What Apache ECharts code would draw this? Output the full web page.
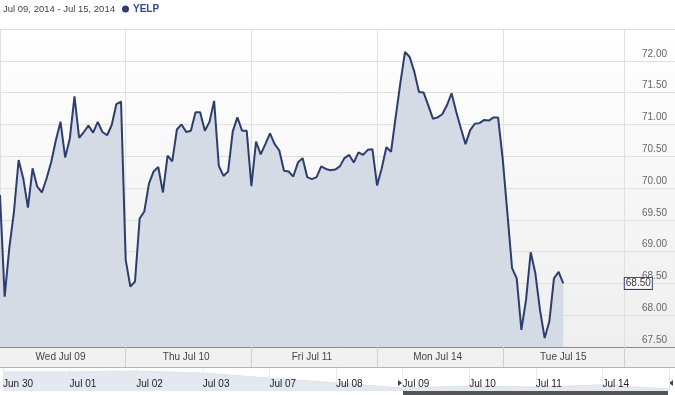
<!DOCTYPE html>
<html>
<head>
<meta charset="utf-8">
<script src="https://cdn.jsdelivr.net/npm/echarts@6/dist/echarts.min.js"></script>
<style>html,body{margin:0;padding:0;background:#fff}#c{width:675px;height:395px}</style>
</head>
<body>
<div id="c"></div>
<script>
// ---- data ----
const rangeTitle = 'Jul 09, 2014 - Jul 15, 2014';
const seriesName = 'YELP';
const dayLabels = ['Wed Jul 09', 'Thu Jul 10', 'Fri Jul 11', 'Mon Jul 14', 'Tue Jul 15'];
const jul09 = [69.89, 68.29, 69.06, 69.63, 70.44, 70.15, 69.69, 70.31, 70.02, 69.93, 70.15, 70.41, 70.75, 71.04, 70.48, 70.78, 71.44, 70.79, 70.88, 70.98, 70.87, 71.04, 70.88, 70.83, 70.99, 71.32, 71.36];
const jul10 = [68.87, 68.45, 68.53, 69.52, 69.63, 70.07, 70.26, 70.33, 69.93, 70.51, 70.42, 70.92, 71.00, 70.88, 70.90, 71.19, 71.19, 70.90, 71.04, 71.37, 70.35, 70.19, 70.26, 70.89, 71.11, 70.90, 70.90];
const jul11 = [70.03, 70.73, 70.53, 70.69, 70.86, 70.69, 70.59, 70.27, 70.26, 70.18, 70.40, 70.47, 70.17, 70.14, 70.17, 70.34, 70.30, 70.28, 70.29, 70.34, 70.47, 70.52, 70.40, 70.56, 70.52, 70.60, 70.61];
const jul14 = [70.04, 70.31, 70.64, 70.57, 71.12, 71.65, 72.14, 72.06, 71.83, 71.51, 71.50, 71.30, 71.09, 71.11, 71.16, 71.30, 71.49, 71.20, 70.94, 70.69, 70.91, 71.01, 71.02, 71.07, 71.06, 71.11, 71.11];
const jul15 = [70.45, 69.60, 68.74, 68.58, 67.77, 68.24, 68.99, 68.66, 68.08, 67.64, 67.90, 68.58, 68.68, 68.50];
const yTicks = [67.5, 68.0, 68.5, 69.0, 69.5, 70.0, 70.5, 71.0, 71.5, 72.0, 72.5];
const navDates = ['Jun 30', 'Jul 01', 'Jul 02', 'Jul 03', 'Jul 07', 'Jul 08', 'Jul 09', 'Jul 10', 'Jul 11', 'Jul 14', 'Jul 15'];
const navValues = [76.4, 76.4, 76.9, 75.8, 73.1, 70.4, 67.6, 68.7, 68.2, 69.3, 67.1];

// ---- build ----
const days = [jul09, jul10, jul11, jul14, jul15];
const perDay = 27;
const totalSlots = 146; // includes empty room for the right-hand axis area
const cats = [], vals = [];
days.forEach((d, di) => d.forEach((v, k) => { cats.push(dayLabels[di] + '|' + k); vals.push(v); }));
const nData = vals.length;
while (cats.length < totalSlots) { cats.push('pad' + cats.length); vals.push(null); }
const axisSlot = 134;
const lastVal = vals[nData - 1];
const isDayStart = i => (i % perDay === 0 && i < nData) || i === axisSlot;
const isDayMid = i => i % perDay === 13 && i < nData;

const FONT = '"Liberation Sans", Arial, sans-serif';
const FS = 10;
const LINE = '#2b3e6e';
const chart = echarts.init(document.getElementById('c'), null, {renderer: 'canvas'});
chart.setOption({
  animation: false,
  textStyle: {fontFamily: FONT},
  title: {text: rangeTitle, left: 3, top: 4, padding: 0,
    textStyle: {fontSize: 9.5, fontWeight: 'normal', color: '#444', fontFamily: FONT}},
  legend: {data: [{name: seriesName, icon: 'circle', itemStyle: {color: LINE}}], left: 122, top: 4, padding: 0,
    itemWidth: 7, itemHeight: 7, itemGap: 5,
    textStyle: {fontSize: FS, fontWeight: 'bold', color: '#2d4a8c', fontFamily: FONT, padding: [0, 0, 0, -1]}},
  graphic: [
    {type: 'rect', shape: {x: 0, y: 348, width: 675, height: 19}, style: {fill: '#f1f1f1'}, z: -10, silent: true},
    {type: 'line', shape: {x1: 0, y1: 367.5, x2: 675, y2: 367.5}, style: {stroke: '#b5b5b5', lineWidth: 1}, silent: true},
    {type: 'rect', shape: {x: 403, y: 390, width: 265, height: 5}, style: {fill: '#555'}, silent: true},
    {type: 'polygon', shape: {points: [[398, 380], [402, 383], [398, 386]]}, style: {fill: '#444'}, silent: true},
    {type: 'polygon', shape: {points: [[673, 380], [669, 383], [673, 386]]}, style: {fill: '#444'}, silent: true}
  ],
  grid: [
    {left: 0, right: 0, top: 29, height: 318, show: true, borderWidth: 0,
      backgroundColor: new echarts.graphic.LinearGradient(0, 0, 0, 1, [{offset: 0, color: '#ffffff'}, {offset: 1, color: '#efefef'}])},
    {left: 1, right: 6, top: 369, height: 22, show: false}
  ],
  xAxis: [
    {type: 'category', gridIndex: 0, data: cats, boundaryGap: false,
      axisLine: {show: true, lineStyle: {color: '#8a8a8a', width: 1}},
      axisTick: {show: true, interval: (i) => isDayStart(i) && i > 0, length: 20, lineStyle: {color: '#d0d0d0'}},
      axisLabel: {interval: (i) => isDayMid(i), formatter: v => v.split('|')[0], margin: 5,
        fontSize: FS, color: '#444', fontFamily: FONT},
      splitLine: {show: true, interval: (i) => isDayStart(i), lineStyle: {color: '#e0e0e0', width: 1}}},
    {type: 'category', gridIndex: 1, data: navDates, boundaryGap: false, z: 10,
      axisLine: {show: false}, axisTick: {show: false},
      axisLabel: {inside: true, align: 'left', margin: 2, interval: 0, fontSize: FS, color: '#222', fontFamily: FONT,
        formatter: (v, i) => i < navDates.length - 1 ? v : ''},
      splitLine: {show: true, lineStyle: {color: '#e8e8e8'}}}
  ],
  yAxis: [
    {type: 'value', gridIndex: 0, position: 'right', min: yTicks[0], max: yTicks[yTicks.length - 1], interval: 0.5,
      axisLine: {show: false}, axisTick: {show: false},
      axisLabel: {inside: true, margin: 8, showMaxLabel: false, verticalAlign: 'bottom', padding: [0, 0, 2, 0],
        formatter: v => v.toFixed(2), fontSize: FS, color: '#666', fontFamily: FONT},
      splitLine: {show: true, lineStyle: {color: '#e0e0e0', width: 1}}},
    {type: 'value', gridIndex: 1, min: 66, max: 78, show: false, splitLine: {show: false}}
  ],
  series: [
    {name: seriesName, type: 'line', xAxisIndex: 0, yAxisIndex: 0, data: vals, symbol: 'none', connectNulls: false,
      lineStyle: {color: LINE, width: 2}, itemStyle: {color: LINE},
      areaStyle: {color: '#d4dbe5', opacity: 1},
      markPoint: {symbol: 'rect', symbolSize: 0, silent: true,
        data: [{coord: [axisSlot, lastVal], value: lastVal}],
        label: {show: true, position: 'right', distance: 1, formatter: () => lastVal.toFixed(2),
          backgroundColor: '#fff', borderColor: LINE, borderWidth: 1, padding: [1, 1, 0, 1],
          color: '#333', fontSize: FS, fontFamily: FONT}}},
    {name: 'nav', type: 'line', xAxisIndex: 1, yAxisIndex: 1, data: navValues, symbol: 'none', z: 1,
      lineStyle: {color: '#dde3ec', width: 1}, areaStyle: {color: '#e4e9f1', opacity: 1},
      markLine: {symbol: 'none', silent: true, label: {show: false},
        lineStyle: {color: '#666', width: 1, type: 'solid'},
        data: [{xAxis: 6}, {xAxis: navDates.length - 1}]}}
  ]
});
</script>
</body>
</html>
